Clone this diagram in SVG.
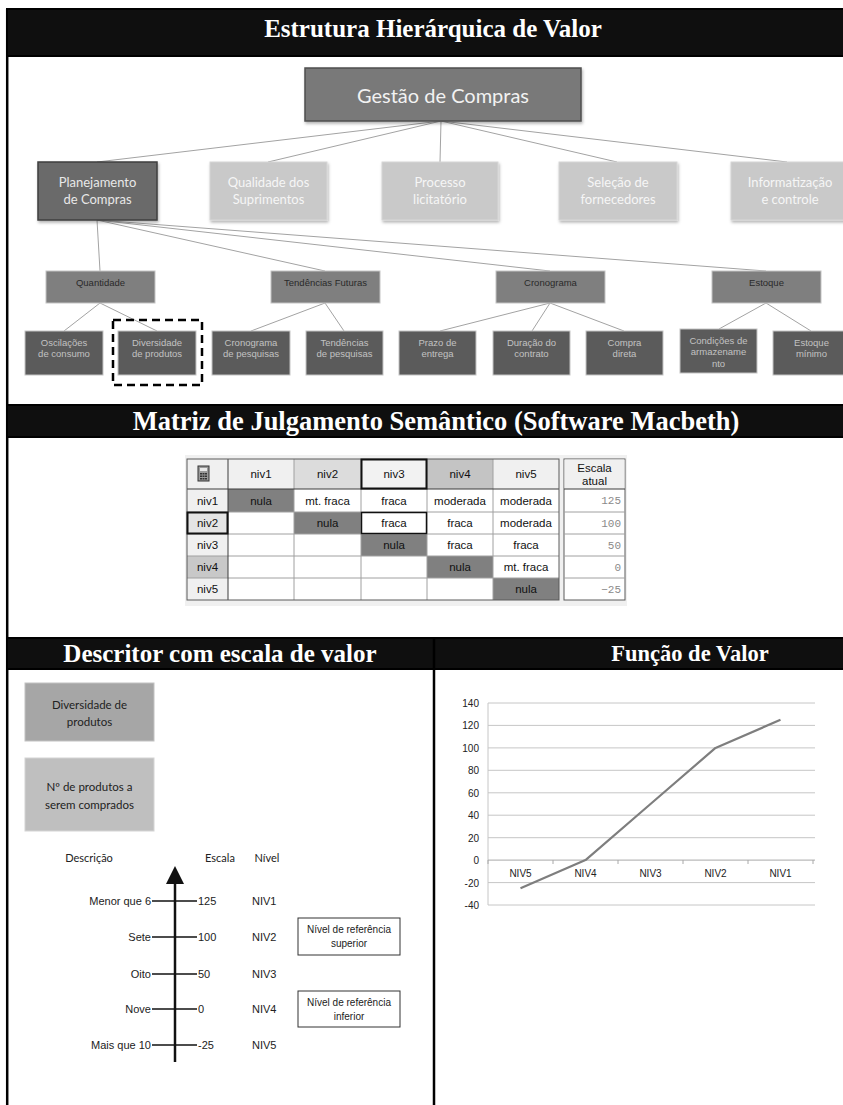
<svg xmlns="http://www.w3.org/2000/svg" width="843" height="1105" viewBox="0 0 843 1105">
  <defs>
    <style>
      .band { fill: #0f0f0f; stroke: #000; stroke-width: 2; }
      .band-title { font-family: "Liberation Serif", "Times New Roman", serif; font-weight: bold; font-size: 25px; fill: #fff; text-anchor: middle; }
      .band-title.wide { font-size: 26.5px; }
      .band-title.small { font-size: 22.5px; }
      .cal { font-family: Lato, "Open Sans", sans-serif; text-anchor: middle; }
      .ar { font-family: "Liberation Sans", Arial, sans-serif; text-anchor: middle; }
      .lvl3 { fill: #7f7f7f; stroke: #c4c4c4; stroke-width: 1; }
      .lvl3-t { font-size: 9.5px; fill: #2a2a2a; }
      .lvl4 { fill: #5b5b5b; stroke: #c4c4c4; stroke-width: 1; }
      .lvl4-t { font-size: 9.5px; fill: #c2c2c2; }
      .light { fill: #c9c9c9; stroke: #d6d6d6; stroke-width: 1; }
      .light-t { font-size: 13px; fill: #f6f6f6; }
      .conn line { stroke: #a3a3a3; stroke-width: 1; }
      .grid line { stroke: #a0a0a0; stroke-width: 1; }
      .mt { font-family: "Liberation Sans", Tahoma, sans-serif; font-size: 11.5px; fill: #111; text-anchor: middle; }
      .mono { font-family: "Liberation Mono", "Courier New", monospace; font-size: 11px; fill: #8a8a8a; text-anchor: end; }
      .tick { stroke: #111; stroke-width: 1.5; }
      .lab { font-family: "Liberation Sans", Arial, sans-serif; font-size: 11px; fill: #222; }
      .chart-grid line { stroke: #c6c6c6; stroke-width: 1; }
      .ylab { font-family: "Liberation Sans", Arial, sans-serif; font-size: 10px; fill: #222; text-anchor: end; }
      .xlab { font-family: "Liberation Sans", Arial, sans-serif; font-size: 10px; fill: #222; text-anchor: middle; }
    </style>
    <filter id="shadow" x="-10%" y="-10%" width="125%" height="130%">
      <feDropShadow dx="1" dy="2" stdDeviation="1.5" flood-color="#000" flood-opacity="0.3"/>
    </filter>
  </defs>

  <!-- page and table frame -->
  <g id="frame">
    <rect x="0" y="0" width="843" height="1105" fill="#fff"/>
    <line x1="7.2" y1="9" x2="7.2" y2="1105" stroke="#000" stroke-width="2.5"/>
    <rect class="band" x="7" y="9" width="840" height="47"/>
    <rect class="band" x="7" y="405" width="840" height="32"/>
    <rect class="band" x="7" y="638" width="840" height="31"/>
    <line x1="434" y1="638" x2="434" y2="1105" stroke="#000" stroke-width="2.5"/>
    <text class="band-title" x="433" y="37">Estrutura Hierárquica de Valor</text>
    <text class="band-title wide" x="436" y="430">Matriz de Julgamento Semântico (Software Macbeth)</text>
    <text class="band-title" x="220" y="662">Descritor com escala de valor</text>
    <text class="band-title small" x="690" y="661">Função de Valor</text>
  </g>

  <!-- tree connectors -->
  <g id="connectors" class="conn">
    <line x1="441" y1="121" x2="97" y2="162"/>
    <line x1="441" y1="121" x2="268" y2="162"/>
    <line x1="441" y1="121" x2="440" y2="162"/>
    <line x1="441" y1="121" x2="617" y2="162"/>
    <line x1="441" y1="121" x2="787" y2="162"/>
    <line x1="97" y1="220" x2="100" y2="271"/>
    <line x1="97" y1="220" x2="325" y2="271"/>
    <line x1="97" y1="220" x2="550" y2="271"/>
    <line x1="97" y1="220" x2="766" y2="271"/>
    <line x1="100" y1="303" x2="64" y2="331"/>
    <line x1="100" y1="303" x2="157" y2="331"/>
    <line x1="325" y1="303" x2="251" y2="331"/>
    <line x1="325" y1="303" x2="344" y2="331"/>
    <line x1="550" y1="303" x2="440" y2="331"/>
    <line x1="550" y1="303" x2="532" y2="331"/>
    <line x1="550" y1="303" x2="624" y2="331"/>
    <line x1="766" y1="303" x2="719" y2="329"/>
    <line x1="766" y1="303" x2="811" y2="331"/>
  </g>

  <!-- level 1 -->
  <g id="node-gestao">
    <rect x="305" y="68" width="276" height="53" fill="#797979" stroke="#4f4f4f" stroke-width="1.5" filter="url(#shadow)"/>
    <text class="cal" x="443" y="103" font-size="20" fill="#f2f2f2">Gestão de Compras</text>
  </g>

  <!-- level 2 -->
  <g id="node-planejamento">
    <rect x="38" y="162" width="119" height="58" fill="#6b6b6b" stroke="#3f3f3f" stroke-width="1.5" filter="url(#shadow)"/>
    <text class="cal" x="97.5" y="187" font-size="13" fill="#e8e8e8">Planejamento</text>
    <text class="cal" x="97.5" y="204" font-size="13" fill="#e8e8e8">de Compras</text>
  </g>
  <g id="node-qualidade">
    <rect class="light" x="210" y="162" width="117" height="58" filter="url(#shadow)"/>
    <text class="cal light-t" x="268.5" y="187">Qualidade dos</text>
    <text class="cal light-t" x="268.5" y="204">Suprimentos</text>
  </g>
  <g id="node-processo">
    <rect class="light" x="382" y="162" width="116" height="58" filter="url(#shadow)"/>
    <text class="cal light-t" x="440" y="187">Processo</text>
    <text class="cal light-t" x="440" y="204">licitatório</text>
  </g>
  <g id="node-selecao">
    <rect class="light" x="559" y="162" width="118" height="58" filter="url(#shadow)"/>
    <text class="cal light-t" x="618" y="187">Seleção de</text>
    <text class="cal light-t" x="618" y="204">fornecedores</text>
  </g>
  <g id="node-informatizacao">
    <rect class="light" x="731" y="162" width="118" height="58" filter="url(#shadow)"/>
    <text class="cal light-t" x="790" y="187">Informatização</text>
    <text class="cal light-t" x="790" y="204">e controle</text>
  </g>

  <!-- level 3 -->
  <g id="node-quantidade">
    <rect class="lvl3" x="46" y="271" width="109" height="32"/>
    <text class="ar lvl3-t" x="100.5" y="285.5">Quantidade</text>
  </g>
  <g id="node-tendencias-futuras">
    <rect class="lvl3" x="271" y="271" width="109" height="32"/>
    <text class="ar lvl3-t" x="325.5" y="285.5">Tendências Futuras</text>
  </g>
  <g id="node-cronograma">
    <rect class="lvl3" x="496" y="271" width="109" height="32"/>
    <text class="ar lvl3-t" x="550.5" y="285.5">Cronograma</text>
  </g>
  <g id="node-estoque">
    <rect class="lvl3" x="712" y="271" width="109" height="32"/>
    <text class="ar lvl3-t" x="766.5" y="285.5">Estoque</text>
  </g>

  <!-- level 4 -->
  <g id="node-oscilacoes">
    <rect class="lvl4" x="25" y="331" width="78" height="44"/>
    <text class="ar lvl4-t" x="64" y="345.5">Oscilações</text>
    <text class="ar lvl4-t" x="64" y="357">de consumo</text>
  </g>
  <g id="node-diversidade">
    <rect class="lvl4" x="118" y="331" width="78" height="44"/>
    <text class="ar lvl4-t" x="157" y="345.5">Diversidade</text>
    <text class="ar lvl4-t" x="157" y="357">de produtos</text>
    <rect x="113" y="320" width="89" height="65" fill="none" stroke="#000" stroke-width="2.5" stroke-dasharray="8 5"/>
  </g>
  <g id="node-cronograma-pesquisas">
    <rect class="lvl4" x="212" y="331" width="78" height="44"/>
    <text class="ar lvl4-t" x="251" y="345.5">Cronograma</text>
    <text class="ar lvl4-t" x="251" y="357">de pesquisas</text>
  </g>
  <g id="node-tendencias-pesquisas">
    <rect class="lvl4" x="306" y="331" width="77" height="44"/>
    <text class="ar lvl4-t" x="344.5" y="345.5">Tendências</text>
    <text class="ar lvl4-t" x="344.5" y="357">de pesquisas</text>
  </g>
  <g id="node-prazo">
    <rect class="lvl4" x="399" y="331" width="77" height="44"/>
    <text class="ar lvl4-t" x="437.5" y="345.5">Prazo de</text>
    <text class="ar lvl4-t" x="437.5" y="357">entrega</text>
  </g>
  <g id="node-duracao">
    <rect class="lvl4" x="493" y="331" width="77" height="44"/>
    <text class="ar lvl4-t" x="531.5" y="345.5">Duração do</text>
    <text class="ar lvl4-t" x="531.5" y="357">contrato</text>
  </g>
  <g id="node-compra-direta">
    <rect class="lvl4" x="586" y="331" width="77" height="44"/>
    <text class="ar lvl4-t" x="624.5" y="345.5">Compra</text>
    <text class="ar lvl4-t" x="624.5" y="357">direta</text>
  </g>
  <g id="node-condicoes">
    <rect class="lvl4" x="680" y="329" width="77" height="44"/>
    <text class="ar lvl4-t" x="718.5" y="343.5">Condições de</text>
    <text class="ar lvl4-t" x="718.5" y="355">armazename</text>
    <text class="ar lvl4-t" x="718.5" y="366.5">nto</text>
  </g>
  <g id="node-estoque-minimo">
    <rect class="lvl4" x="773" y="331" width="77" height="44"/>
    <text class="ar lvl4-t" x="811.5" y="345.5">Estoque</text>
    <text class="ar lvl4-t" x="811.5" y="357">mínimo</text>
  </g>

  <!-- semantic judgement matrix -->
  <g id="matrix">
    <rect x="185" y="455" width="442" height="151" fill="#f0f0f0"/>
    <rect x="187" y="459" width="372" height="141" fill="#fff"/>
    <!-- header row -->
    <rect x="187" y="459" width="41" height="30" fill="#f0f0f0"/>
    <rect x="228" y="459" width="66" height="30" fill="#f0f0f0"/>
    <rect x="294" y="459" width="67" height="30" fill="#dcdcdc"/>
    <rect x="361" y="459" width="66" height="30" fill="#f2f2f2"/>
    <rect x="427" y="459" width="66" height="30" fill="#c4c4c4"/>
    <rect x="493" y="459" width="66" height="30" fill="#f0f0f0"/>
    <!-- row headers -->
    <rect x="187" y="489" width="41" height="23" fill="#f0f0f0"/>
    <rect x="187" y="512" width="41" height="22" fill="#e4e4e4"/>
    <rect x="187" y="534" width="41" height="22" fill="#f0f0f0"/>
    <rect x="187" y="556" width="41" height="22" fill="#c8c8c8"/>
    <rect x="187" y="578" width="41" height="22" fill="#f0f0f0"/>
    <!-- diagonal -->
    <rect x="228" y="489" width="66" height="23" fill="#808080"/>
    <rect x="294" y="512" width="67" height="22" fill="#808080"/>
    <rect x="361" y="534" width="66" height="22" fill="#808080"/>
    <rect x="427" y="556" width="66" height="22" fill="#808080"/>
    <rect x="493" y="578" width="66" height="22" fill="#808080"/>
    <g class="grid">
      <line x1="294" y1="459" x2="294" y2="600"/>
      <line x1="361" y1="459" x2="361" y2="600"/>
      <line x1="427" y1="459" x2="427" y2="600"/>
      <line x1="493" y1="459" x2="493" y2="600"/>
      <line x1="187" y1="512" x2="559" y2="512"/>
      <line x1="187" y1="534" x2="559" y2="534"/>
      <line x1="187" y1="556" x2="559" y2="556"/>
      <line x1="187" y1="578" x2="559" y2="578"/>
    </g>
    <line x1="228" y1="459" x2="228" y2="600" stroke="#3c3c3c" stroke-width="1"/>
    <line x1="187" y1="489" x2="559" y2="489" stroke="#3c3c3c" stroke-width="1"/>
    <rect x="187" y="459" width="372" height="141" fill="none" stroke="#5a5a5a" stroke-width="1"/>
    <!-- highlighted cells -->
    <rect x="361.5" y="459.5" width="65" height="29" fill="none" stroke="#111" stroke-width="2"/>
    <rect x="187.5" y="512.5" width="40" height="21" fill="none" stroke="#111" stroke-width="2"/>
    <rect x="361.5" y="512.5" width="65" height="21" fill="#fff" stroke="#111" stroke-width="1.5"/>
    <!-- calculator icon -->
    <rect x="198" y="466" width="11" height="15" fill="#9a9a9a" stroke="#333" stroke-width="1"/>
    <rect x="200" y="468" width="7" height="3" fill="#e8e8e8"/>
    <path d="M200 473h2v1.5h-2zM202.5 473h2v1.5h-2zM205 473h2v1.5h-2zM200 475.5h2v1.5h-2zM202.5 475.5h2v1.5h-2zM205 475.5h2v1.5h-2zM200 478h2v1.5h-2zM202.5 478h2v1.5h-2zM205 478h2v1.5h-2z" fill="#333"/>
    <!-- header texts -->
    <text class="mt" x="261" y="478">niv1</text>
    <text class="mt" x="327.5" y="478">niv2</text>
    <text class="mt" x="394" y="478">niv3</text>
    <text class="mt" x="460" y="478">niv4</text>
    <text class="mt" x="526" y="478">niv5</text>
    <text class="mt" x="207.5" y="504.5">niv1</text>
    <text class="mt" x="207.5" y="527">niv2</text>
    <text class="mt" x="207.5" y="549">niv3</text>
    <text class="mt" x="207.5" y="571">niv4</text>
    <text class="mt" x="207.5" y="593">niv5</text>
    <!-- row niv1 -->
    <text class="mt" x="261" y="504.5">nula</text>
    <text class="mt" x="327.5" y="504.5">mt. fraca</text>
    <text class="mt" x="394" y="504.5">fraca</text>
    <text class="mt" x="460" y="504.5">moderada</text>
    <text class="mt" x="526" y="504.5">moderada</text>
    <!-- row niv2 -->
    <text class="mt" x="327.5" y="527">nula</text>
    <text class="mt" x="394" y="527">fraca</text>
    <text class="mt" x="460" y="527">fraca</text>
    <text class="mt" x="526" y="527">moderada</text>
    <!-- row niv3 -->
    <text class="mt" x="394" y="549">nula</text>
    <text class="mt" x="460" y="549">fraca</text>
    <text class="mt" x="526" y="549">fraca</text>
    <!-- row niv4 -->
    <text class="mt" x="460" y="571">nula</text>
    <text class="mt" x="526" y="571">mt. fraca</text>
    <!-- row niv5 -->
    <text class="mt" x="526" y="593">nula</text>
    <!-- current scale column -->
    <rect x="564" y="459" width="61" height="141" fill="#fff" stroke="#5a5a5a" stroke-width="1"/>
    <rect x="564.5" y="459.5" width="60" height="29.5" fill="#f0f0f0"/>
    <line x1="564" y1="489" x2="625" y2="489" stroke="#3c3c3c" stroke-width="1"/>
    <g class="grid">
      <line x1="564" y1="512" x2="625" y2="512"/>
      <line x1="564" y1="534" x2="625" y2="534"/>
      <line x1="564" y1="556" x2="625" y2="556"/>
      <line x1="564" y1="578" x2="625" y2="578"/>
    </g>
    <text class="mt" x="594.5" y="471.5">Escala</text>
    <text class="mt" x="594.5" y="485">atual</text>
    <text class="mono" x="621" y="504">125</text>
    <text class="mono" x="621" y="526.5">100</text>
    <text class="mono" x="621" y="548.5">50</text>
    <text class="mono" x="621" y="570.5">0</text>
    <text class="mono" x="621" y="592.5">−25</text>
  </g>

  <!-- descriptor -->
  <g id="descriptor-diversidade">
    <rect x="25" y="683" width="129" height="58" fill="#a6a6a6" stroke="#c2c2c2" stroke-width="1"/>
    <text class="cal" x="89.5" y="709" font-size="11.5" fill="#222">Diversidade de</text>
    <text class="cal" x="89.5" y="726" font-size="11.5" fill="#222">produtos</text>
  </g>
  <g id="descriptor-numero">
    <rect x="25" y="758" width="129" height="73" fill="#bfbfbf" stroke="#d4d4d4" stroke-width="1"/>
    <text class="cal" x="89.5" y="791" font-size="11.5" fill="#222">Nº de produtos a</text>
    <text class="cal" x="89.5" y="809" font-size="11.5" fill="#222">serem comprados</text>
  </g>
  <g id="descriptor-scale">
    <text class="cal" x="89" y="862" font-size="11" fill="#222">Descrição</text>
    <text class="cal" x="220" y="862" font-size="11" fill="#222">Escala</text>
    <text class="cal" x="267" y="862" font-size="11" fill="#222">Nível</text>
    <line x1="175" y1="880" x2="175" y2="1062" stroke="#111" stroke-width="2.5"/>
    <polygon points="175,866 166,884 184,884" fill="#111"/>
    <line class="tick" x1="152" y1="901" x2="197" y2="901"/>
    <line class="tick" x1="152" y1="937" x2="197" y2="937"/>
    <line class="tick" x1="152" y1="974" x2="197" y2="974"/>
    <line class="tick" x1="152" y1="1009" x2="197" y2="1009"/>
    <line class="tick" x1="152" y1="1045" x2="197" y2="1045"/>
    <g class="lab" text-anchor="end">
      <text x="151" y="905">Menor que 6</text>
      <text x="151" y="941">Sete</text>
      <text x="151" y="978">Oito</text>
      <text x="151" y="1013">Nove</text>
      <text x="151" y="1049">Mais que 10</text>
    </g>
    <g class="lab">
      <text x="198" y="905">125</text>
      <text x="198" y="941">100</text>
      <text x="198" y="978">50</text>
      <text x="198" y="1013">0</text>
      <text x="198" y="1049">-25</text>
      <text x="252" y="905">NIV1</text>
      <text x="252" y="941">NIV2</text>
      <text x="252" y="978">NIV3</text>
      <text x="252" y="1013">NIV4</text>
      <text x="252" y="1049">NIV5</text>
    </g>
  </g>
  <g id="ref-superior">
    <rect x="298" y="918" width="102" height="37" fill="#fff" stroke="#333" stroke-width="1"/>
    <text class="ar" x="349" y="933" font-size="10" fill="#222">Nível de referência</text>
    <text class="ar" x="349" y="947" font-size="10" fill="#222">superior</text>
  </g>
  <g id="ref-inferior">
    <rect x="298" y="991" width="102" height="36" fill="#fff" stroke="#333" stroke-width="1"/>
    <text class="ar" x="349" y="1006" font-size="10" fill="#222">Nível de referência</text>
    <text class="ar" x="349" y="1020" font-size="10" fill="#222">inferior</text>
  </g>

  <!-- value function chart -->
  <g id="value-chart">
    <g class="chart-grid">
      <line x1="488" y1="703" x2="815" y2="703"/>
      <line x1="488" y1="725.4" x2="815" y2="725.4"/>
      <line x1="488" y1="747.9" x2="815" y2="747.9"/>
      <line x1="488" y1="770.3" x2="815" y2="770.3"/>
      <line x1="488" y1="792.8" x2="815" y2="792.8"/>
      <line x1="488" y1="815.2" x2="815" y2="815.2"/>
      <line x1="488" y1="837.7" x2="815" y2="837.7"/>
      <line x1="488" y1="882.6" x2="815" y2="882.6"/>
      <line x1="488" y1="905" x2="815" y2="905"/>
      <line x1="488" y1="703" x2="488" y2="905"/>
    </g>
    <line x1="488" y1="860.1" x2="815" y2="860.1" stroke="#a8a8a8" stroke-width="1"/>
    <path d="M488 860v4M553 860v4M618 860v4M683 860v4M748 860v4M813 860v4" stroke="#a8a8a8" stroke-width="1"/>
    <g>
      <text class="ylab" x="479" y="707">140</text>
      <text class="ylab" x="479" y="729.4">120</text>
      <text class="ylab" x="479" y="751.9">100</text>
      <text class="ylab" x="479" y="774.3">80</text>
      <text class="ylab" x="479" y="796.8">60</text>
      <text class="ylab" x="479" y="819.2">40</text>
      <text class="ylab" x="479" y="841.7">20</text>
      <text class="ylab" x="479" y="864.1">0</text>
      <text class="ylab" x="479" y="886.6">-20</text>
      <text class="ylab" x="479" y="909">-40</text>
    </g>
    <g>
      <text class="xlab" x="520.5" y="877">NIV5</text>
      <text class="xlab" x="585.5" y="877">NIV4</text>
      <text class="xlab" x="650.5" y="877">NIV3</text>
      <text class="xlab" x="715.5" y="877">NIV2</text>
      <text class="xlab" x="780.5" y="877">NIV1</text>
    </g>
    <polyline points="520.5,888.2 585.5,860.1 650.5,804 715.5,747.9 780.5,719.8" fill="none" stroke="#7e7e7e" stroke-width="2.2" stroke-linejoin="round"/>
  </g>
</svg>
